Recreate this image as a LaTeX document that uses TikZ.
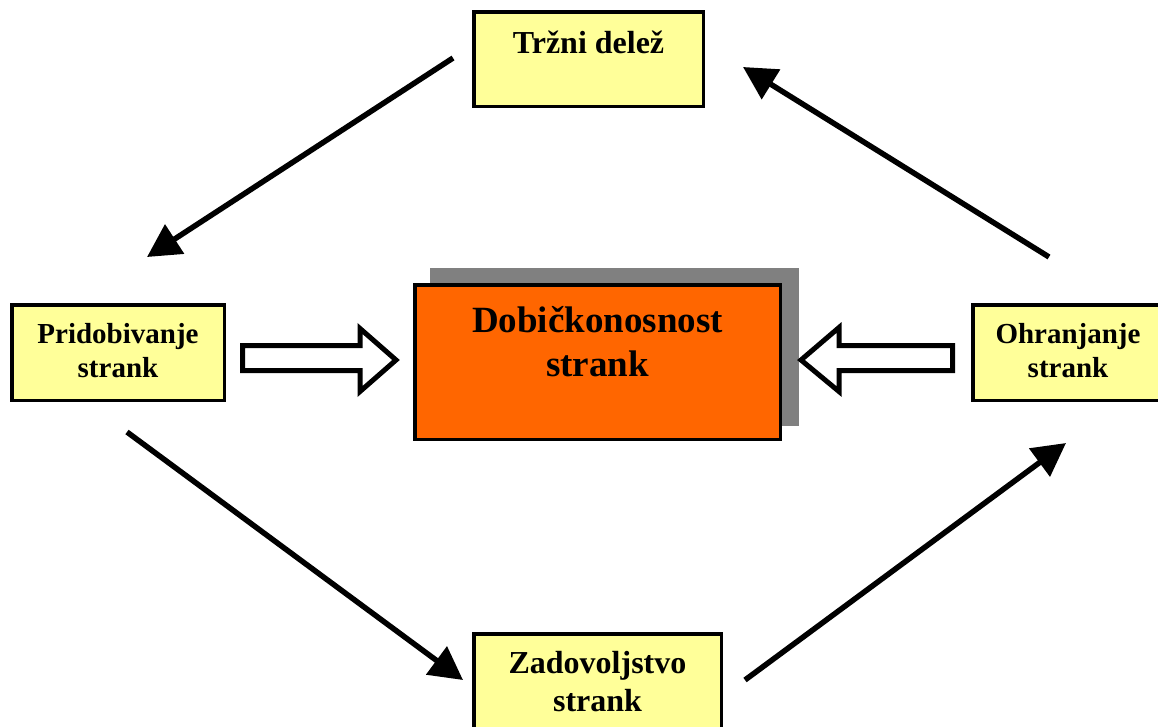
\documentclass[tikz,border=0pt]{standalone}
\usepackage{fontspec}
\setmainfont{Liberation Serif}
\usetikzlibrary{arrows.meta}
\definecolor{boxyellow}{HTML}{FFFF99}
\definecolor{hotorange}{HTML}{FF6600}
\definecolor{shadowgray}{HTML}{808080}
\tikzset{
  box/.style={draw=black, line width=3.5pt, fill=boxyellow, inner sep=0pt},
  mainbox/.style={draw=black, line width=3.5pt, fill=hotorange, inner sep=0pt},
  shadowbox/.style={fill=shadowgray, inner sep=0pt},
  lbl/.style={anchor=base, inner sep=0pt, font=\bfseries\fontsize{29}{34}\selectfont},
  biglbl/.style={anchor=base, inner sep=0pt, font=\bfseries\fontsize{32}{37}\selectfont},
  mainlbl/.style={anchor=base, inner sep=0pt, font=\bfseries\fontsize{37}{43}\selectfont},
  flow/.style={line width=5.5pt, -{Triangle[length=33pt,width=34pt]}},
  hollow/.style={draw=black, line width=5pt, fill=white, line join=miter}
}
\begin{document}
\begin{tikzpicture}[x=1pt,y=-1pt]
\useasboundingbox (0,0) rectangle (1158,726);
\clip (0,0) rectangle (1158,726);

% boxes
\node[box, minimum width=229.5pt, minimum height=94.5pt] (share) at (588.5,59) {};
\node[box, minimum width=212.5pt, minimum height=95.5pt] (acq) at (118,352.5) {};
\node[box, minimum width=190.5pt, minimum height=95.5pt] (ret) at (1068,352.5) {};
\node[box, minimum width=247.5pt, minimum height=104.5pt] (sat) at (597.5,686) {};

% central box with its shadow
\node[shadowbox, minimum width=369pt, minimum height=158pt] (shadow) at (614.5,347) {};
\node[mainbox, minimum width=365.5pt, minimum height=154.5pt] (profit) at (597.5,362) {};

% labels
\node[biglbl] (shareT) at (588.5,53) {Tržni delež};
\node[lbl] (acqT1) at (118,343) {Pridobivanje};
\node[lbl] (acqT2) at (118,377) {strank};
\node[lbl] (retT1) at (1068,343) {Ohranjanje};
\node[lbl] (retT2) at (1068,377) {strank};
\node[biglbl] (satT1) at (597.5,673) {Zadovoljstvo};
\node[biglbl] (satT2) at (597.5,711) {strank};
\node[mainlbl] (profitT1) at (597.5,332) {Dobičkonosnost};
\node[mainlbl] (profitT2) at (597.5,376) {strank};

% cycle arrows
\coordinate (a1s) at (453,58);   \coordinate (a1e) at (147,257);
\coordinate (a2s) at (127,432);  \coordinate (a2e) at (463,680);
\coordinate (a3s) at (745,680);  \coordinate (a3e) at (1066,443);
\coordinate (a4s) at (1049,257); \coordinate (a4e) at (743,67);
\draw[flow] (a1s) -- (a1e);
\draw[flow] (a2s) -- (a2e);
\draw[flow] (a3s) -- (a3e);
\draw[flow] (a4s) -- (a4e);

% hollow block arrows into the central box
\draw[hollow] (242.5,345.5) -- (360,345.5) -- (360,328.5) -- (396,360) -- (360,391.5)
  -- (360,370.5) -- (242.5,370.5) -- cycle;
\draw[hollow] (801,360) -- (839,327.5) -- (839,345.5) -- (952.5,345.5) -- (952.5,370.5)
  -- (839,370.5) -- (839,391.5) -- cycle;
\end{tikzpicture}
\end{document}
